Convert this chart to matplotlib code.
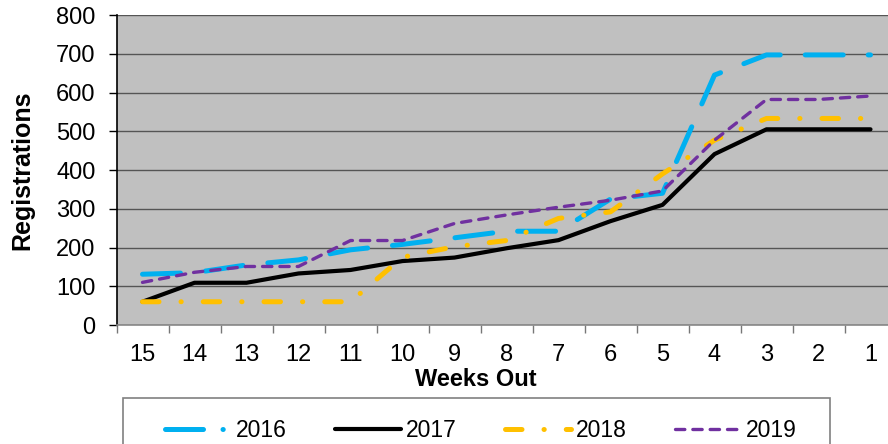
import matplotlib
matplotlib.use("Agg")
import matplotlib.pyplot as plt
from matplotlib.lines import Line2D
from matplotlib.patches import Rectangle

plt.rcParams['font.family'] = ['Liberation Sans', 'DejaVu Sans']

weeks = ['15', '14', '13', '12', '11', '10', '9', '8', '7', '6', '5', '4', '3', '2', '1']
s2016 = [131, 135, 155, 168, 194, 208, 225, 242, 242, 325, 340, 645, 697, 697, 697]
s2017 = [60, 109, 109, 133, 142, 165, 174, 198, 219, 268, 310, 441, 505, 505, 505]
s2018 = [60, 60, 60, 60, 60, 175, 202, 218, 275, 292, 390, 477, 533, 533, 533]
s2019 = [110, 136, 151, 151, 218, 218, 262, 284, 304, 322, 346, 477, 582, 582, 591]
years = ['2016', '2017', '2018', '2019']
yticks = [0, 100, 200, 300, 400, 500, 600, 700, 800]

W, H = 888, 444
fig = plt.figure(figsize=(W / 100, H / 100), dpi=100)
left, right, top, bottom = 116.5, 896.5, 15, 325
ax = fig.add_axes([left / W, 1 - bottom / H, (right - left) / W, (bottom - top) / H])
ax.set_facecolor('#C0C0C0')

x = list(range(len(weeks)))
colors = ['#00B0F0', '#000000', '#FFC000', '#7030A0']
plot_styles = [
    dict(lw=3.6, dashes=(7.6, 5.0), dash_capstyle='round'),
    dict(lw=3.0, linestyle='-', solid_capstyle='round'),
    dict(lw=3.6, dashes=(3.3, 4.4, 0.05, 4.4), dash_capstyle='round'),
    dict(lw=2.4, dashes=(2.8, 2.4), dash_capstyle='round'),
]
legend_styles = [
    dict(lw=3.6, dashes=(7.6, 3.9, 0.05, 10), dash_capstyle='round'),
    dict(lw=3.0, linestyle='-', solid_capstyle='round'),
    dict(lw=3.6, dashes=(3.3, 4.4, 0.05, 4.4), dash_capstyle='round'),
    dict(lw=2.4, dashes=(2.8, 2.4), dash_capstyle='round'),
]
series = [s2016, s2017, s2018, s2019]
for s, st, c, yr in zip(series, plot_styles, colors, years):
    ax.plot(x, s, color=c, label=yr, solid_joinstyle='round', zorder=3, **st)

ax.set_xlim(-0.5, len(weeks) - 0.5)
ax.set_ylim(0, 800)
ax.set_yticks(yticks)
ax.set_yticklabels([str(v) for v in yticks], fontsize=17)
ax.set_xticks(x)
ax.set_xticklabels(weeks, fontsize=17)
ax.set_xticks([i - 0.5 for i in range(len(weeks) + 1)], minor=True)
ax.tick_params(axis='x', which='major', length=0, pad=14)
ax.tick_params(axis='x', which='minor', length=5.5, width=1, color='#777777', direction='out')
ax.tick_params(axis='y', length=6, width=1, direction='out', pad=9)
ax.yaxis.grid(True, color='#555555', lw=1.0)
ax.set_axisbelow(True)
for sp in ['top', 'right']:
    ax.spines[sp].set_visible(False)
ax.spines['left'].set_color('black')
ax.spines['left'].set_linewidth(1.2)
ax.spines['bottom'].set_color('#888888')
ax.spines['bottom'].set_linewidth(1.2)

ax.set_ylabel('Registrations', fontsize=18, fontweight='bold')
ax.yaxis.set_label_coords((34 - left) / (right - left), 0.5)
ax.set_xlabel('Weeks Out', fontsize=17, fontweight='bold')
ax.xaxis.set_label_coords((476 - left) / (right - left), (bottom - 368.5) / (bottom - top))

# legend frame
fig.patches.append(Rectangle((123 / W, -0.05), (830 - 123) / W, 1 - 398 / H + 0.05,
                             transform=fig.transFigure, fill=False,
                             edgecolor='#808080', lw=1.2))
handles = [Line2D([], [], color=c, **st) for c, st in zip(colors, legend_styles)]
leg = fig.legend(handles=handles, labels=years, loc='upper left',
                 bbox_to_anchor=(165 / W, 1 - 419 / H), ncol=4, frameon=False,
                 fontsize=16.5, handlelength=2.9, handletextpad=0.2, columnspacing=2.1,
                 borderaxespad=0, borderpad=0)

fig.savefig('out.png', dpi=100)
